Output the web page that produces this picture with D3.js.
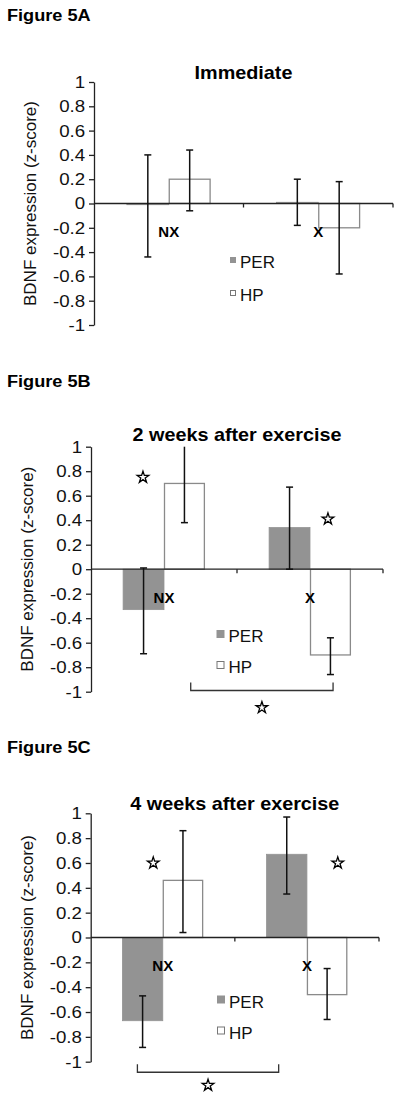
<!DOCTYPE html>
<html>
<head>
<meta charset="utf-8">
<script src="https://cdn.jsdelivr.net/npm/d3@7"></script>
<style>
  html, body { margin: 0; padding: 0; background: #fff; }
  svg { display: block; font-family: "Liberation Sans", Arial, sans-serif; }
</style>
</head>
<body>
<script>
// ---------------- DATA ----------------
const categories = ["NX", "X"];
const seriesNames = ["PER", "HP"];
const yTicks = [1, 0.8, 0.6, 0.4, 0.2, 0, -0.2, -0.4, -0.6, -0.8, -1];
const yTickLabels = ["1", "0.8", "0.6", "0.4", "0.2", "0", "-0.2", "-0.4", "-0.6", "-0.8", "-1"];
const panelLabels = ["Figure 5A", "Figure 5B", "Figure 5C"];
const panelTitles = ["Immediate", "2 weeks after exercise", "4 weeks after exercise"];
const yAxisTitle = "BDNF expression (z-score)";

// Panel A (Immediate)
const perA = [-0.01, 0.01];
const hpA = [0.20, -0.20];
const perErrA = [[-0.44, 0.40], [-0.18, 0.20]];
const hpErrA = [[-0.06, 0.44], [-0.58, 0.18]];

// Panel B (2 weeks)
const perB = [-0.33, 0.34];
const hpB = [0.70, -0.70];
const perErrB = [[-0.69, 0.01], [0.00, 0.67]];
const hpErrB = [[0.38, 1.05], [-0.86, -0.56]];

// Panel C (4 weeks)
const perC = [-0.67, 0.67];
const hpC = [0.46, -0.46];
const perErrC = [[-0.885, -0.47], [0.35, 0.97]];
const hpErrC = [[0.04, 0.86], [-0.66, -0.25]];

// significance stars (category + value)
const starsA = [];
const starsB = [{ cat: "NX", value: 0.75 }, { cat: "X", value: 0.41 }];
const starsC = [{ cat: "NX", value: 0.60 }, { cat: "X", value: 0.60 }];
// brackets (between categories)
const bracketsA = [];
const bracketsB = [{ from: "NX", to: "X", value: -0.99, starValue: -1.13 }];
const bracketsC = [{ from: "NX", to: "X", value: -1.085, starValue: -1.19 }];

const panels = [
  { per: perA, hp: hpA, perErr: perErrA, hpErr: hpErrA, stars: starsA, brackets: bracketsA },
  { per: perB, hp: hpB, perErr: perErrB, hpErr: hpErrB, stars: starsB, brackets: bracketsB },
  { per: perC, hp: hpC, perErr: perErrC, hpErr: hpErrC, stars: starsC, brackets: bracketsC }
];

// ---------------- LAYOUT ----------------
const layouts = [
  { top: 82, bottom: 325, left: 94, right: 393, figY: 20.5, titleY: 79,
    legX: 233, legY: [260, 293], legSq: 6, starFrac: [], brFrac: [] },
  { top: 446.7, bottom: 691.7, left: 91, right: 383, figY: 386.5, titleY: 440.7,
    legX: 220.5, legY: [634, 665], legSq: 8, starFrac: [0.356, 0.623], brFrac: [[0.683, 0.658]] },
  { top: 813.3, bottom: 1061.7, left: 90.7, right: 379, figY: 753.3, titleY: 810,
    legX: 221, legY: [999.5, 1030.5], legSq: 8, starFrac: [0.434, 0.714], brFrac: [[0.324, 0.304]] }
];

const SX = 1.1; // horizontal stretch of the source image text
const PER_FILL = "#939393";
const HP_STROKE = "#8a8a8a";
const AXIS = "#222";
const ERR = "#111";

const svg = d3.select("body").append("svg").attr("width", 400).attr("height", 1097);

function stretchedText(g, x, y, txt, opts) {
  const t = g.append("text")
    .attr("transform", `translate(${x},${y}) scale(${opts.sx || SX},1)`)
    .attr("text-anchor", opts.anchor || "start")
    .attr("font-size", opts.size)
    .attr("font-weight", opts.weight || "normal")
    .attr("fill", opts.fill || "#000")
    .text(txt);
  if (opts.dy) t.attr("dy", opts.dy);
  return t;
}

panels.forEach((P, i) => {
  const L = layouts[i];
  const g = svg.append("g");

  const y = d3.scaleLinear().domain([-1, 1]).range([L.bottom, L.top]);
  const x0 = d3.scaleBand().domain(categories).range([L.left, L.right]).paddingInner(0).paddingOuter(0);
  const bw = x0.bandwidth();
  const x1 = d3.scaleBand().domain(seriesNames).range([bw * 0.22, bw * 0.78]).padding(0);

  // figure label and title
  stretchedText(g, 7, L.figY, panelLabels[i], { size: 16.5, weight: "bold" });
  stretchedText(g, (L.left + L.right) / 2, L.titleY, panelTitles[i], { size: 18, weight: "bold", anchor: "middle" });

  // bars
  const rows = [];
  categories.forEach((c, ci) => {
    rows.push({ cat: c, s: "PER", v: P.per[ci], err: P.perErr[ci] });
    rows.push({ cat: c, s: "HP", v: P.hp[ci], err: P.hpErr[ci] });
  });

  g.selectAll("rect.bar").data(rows).enter().append("rect")
    .attr("class", "bar")
    .attr("x", d => x0(d.cat) + x1(d.s) + (d.s === "HP" ? 0.5 : 0))
    .attr("y", d => y(Math.max(0, d.v)))
    .attr("width", d => x1.bandwidth() - (d.s === "HP" ? 1 : 0))
    .attr("height", d => Math.abs(y(d.v) - y(0)))
    .attr("fill", d => d.s === "PER" ? PER_FILL : "#fff")
    .attr("stroke", d => d.s === "PER" ? PER_FILL : HP_STROKE)
    .attr("stroke-width", d => d.s === "PER" ? 0.8 : 1.3);

  // y axis
  const yAxis = d3.axisLeft(y).tickValues(yTicks).tickSize(5).tickPadding(3).tickSizeOuter(0)
    .tickFormat(d => yTickLabels[yTicks.indexOf(d)]);
  const ya = g.append("g").attr("transform", `translate(${L.left},0)`).call(yAxis);
  ya.select(".domain").attr("stroke", AXIS).attr("stroke-width", 1.3);
  ya.selectAll(".tick line").attr("stroke", AXIS).attr("stroke-width", 1.3);
  ya.selectAll(".tick text")
    .attr("font-size", 17).attr("fill", "#111")
    .attr("font-family", "'Liberation Sans', Arial, sans-serif")
    .attr("transform", `scale(${SX},1)`);

  // x axis at zero
  const xa = g.append("g");
  xa.append("line").attr("x1", L.left).attr("x2", L.right).attr("y1", y(0)).attr("y2", y(0))
    .attr("stroke", AXIS).attr("stroke-width", 1.3);
  const bounds = categories.slice(1).map(c => x0(c)).concat([L.right]);
  xa.selectAll("line.xt").data(bounds).enter().append("line").attr("class", "xt")
    .attr("x1", d => d).attr("x2", d => d).attr("y1", y(0)).attr("y2", y(0) + 4)
    .attr("stroke", AXIS).attr("stroke-width", 1.3);

  // error bars
  const eg = g.append("g").attr("stroke", ERR).attr("stroke-width", 1.5).attr("fill", "none");
  rows.forEach(d => {
    const cx = x0(d.cat) + x1(d.s) + x1.bandwidth() / 2;
    const lo = Math.max(-1, d.err[0]);
    const hi = Math.min(1, d.err[1]);
    eg.append("line").attr("x1", cx).attr("x2", cx).attr("y1", y(lo)).attr("y2", y(hi));
    if (d.err[0] >= -1) eg.append("line").attr("x1", cx - 3.5).attr("x2", cx + 3.5).attr("y1", y(lo)).attr("y2", y(lo));
    if (d.err[1] <= 1) eg.append("line").attr("x1", cx - 3.5).attr("x2", cx + 3.5).attr("y1", y(hi)).attr("y2", y(hi));
  });

  // group labels
  g.selectAll("text.grp").data(categories).enter().append("text").attr("class", "grp")
    .attr("x", d => x0(d) + bw / 2).attr("y", y(-0.23)).attr("dy", "0.36em")
    .attr("text-anchor", "middle").attr("font-size", 15).attr("font-weight", "bold")
    .text(d => d);

  // legend
  seriesNames.forEach((s, si) => {
    const cy = L.legY[si];
    const sq = L.legSq;
    g.append("rect").attr("x", L.legX - sq / 2 + 0.5).attr("y", cy - sq / 2 + 0.5)
      .attr("width", sq - 1).attr("height", sq - 1)
      .attr("fill", s === "PER" ? PER_FILL : "#fff")
      .attr("stroke", s === "PER" ? PER_FILL : "#777").attr("stroke-width", 1);
    g.append("text").attr("x", L.legX + sq / 2 + 4).attr("y", cy + 2).attr("dy", "0.36em")
      .attr("font-size", 17).attr("fill", "#111").text(s);
  });

  // stars
  const star = d3.symbol(d3.symbolStar, 42);
  P.stars.forEach((st, k) => {
    g.append("path").attr("d", star())
      .attr("transform", `translate(${x0(st.cat) + bw * L.starFrac[k]},${y(st.value)})`)
      .attr("fill", "#fff").attr("stroke", "#000").attr("stroke-width", 1.3);
  });

  // brackets
  P.brackets.forEach((b, k) => {
    const xa1 = x0(b.from) + bw * L.brFrac[k][0];
    const xa2 = x0(b.to) + bw * L.brFrac[k][1];
    const yb = y(b.value);
    g.append("path")
      .attr("d", `M${xa1},${yb - 8}V${yb}H${xa2}V${yb - 8}`)
      .attr("fill", "none").attr("stroke", "#333").attr("stroke-width", 1.3);
    g.append("path").attr("d", star())
      .attr("transform", `translate(${(xa1 + xa2) / 2},${y(b.starValue)})`)
      .attr("fill", "#fff").attr("stroke", "#000").attr("stroke-width", 1.3);
  });

  // y axis title
  g.append("text")
    .attr("transform", `translate(${L.left - 64},${(L.top + L.bottom) / 2}) rotate(-90)`)
    .attr("text-anchor", "middle").attr("dy", "0.36em")
    .attr("font-size", 17).attr("fill", "#111").text(yAxisTitle);
});
</script>
</body>
</html>
